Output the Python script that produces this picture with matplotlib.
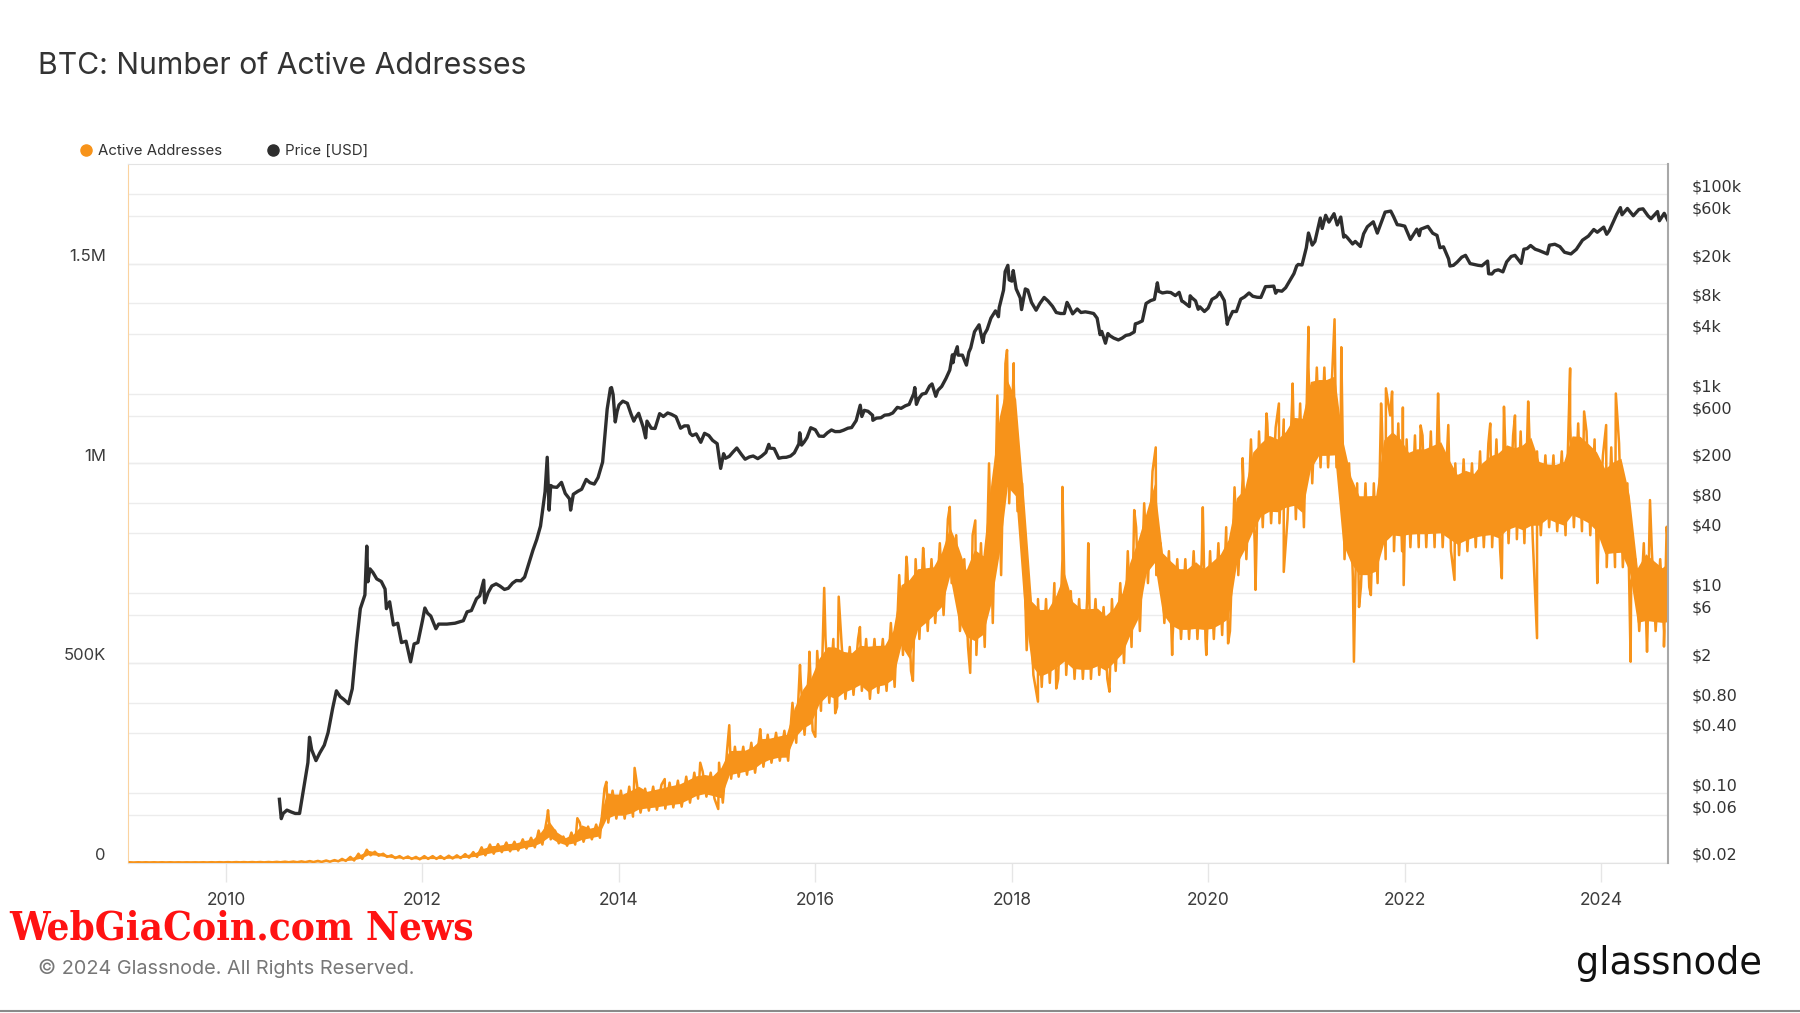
import matplotlib
matplotlib.use("Agg")
import matplotlib.pyplot as plt
import matplotlib.transforms as mtransforms
from matplotlib.lines import Line2D
from matplotlib.ticker import NullLocator
import numpy as np
import pandas as pd

plt.rcParams['font.family'] = ['Inter', 'DejaVu Sans']

# Data -----------------------------------------------------------------------
# active addresses: typical monthly band (thousands), Jan 2009 .. Sep 2024
aa_months = pd.date_range("2009-01-01", "2024-09-01", freq="MS")
aa_low_k = [
    0.1, 0.2, 0.2, 0.2, 0.2, 0.2, 0.2, 0.2, 0.2, 0.2, 0.3, 0.3,      # 2009
    0.3, 0.4, 0.4, 0.4, 0.4, 0.5, 0.6, 0.7, 0.8, 1.0, 1.2, 1.5,      # 2010
    2, 3, 4, 5, 9, 18, 17, 14, 11, 10, 9, 8,                         # 2011
    9, 9, 9, 10, 11, 12, 14, 18, 22, 26, 28, 30,                     # 2012
    35, 38, 45, 58, 48, 42, 45, 52, 58, 62, 100, 110,                # 2013
    110, 115, 125, 130, 132, 135, 138, 140, 150, 160, 165, 160,      # 2014
    150, 210, 215, 220, 225, 240, 250, 255, 255, 300, 320, 330,      # 2015
    380, 400, 390, 410, 420, 430, 410, 425, 430, 440, 520, 480,      # 2016
    560, 580, 600, 620, 700, 580, 540, 520, 540, 600, 720, 900,      # 2017
    880, 600, 470, 440, 450, 460, 470, 460, 460, 460, 470, 460,      # 2018
    480, 500, 540, 580, 700, 720, 600, 570, 560, 560, 560, 560,      # 2019
    560, 570, 580, 720, 760, 800, 840, 850, 850, 860, 860, 840,      # 2020
    950, 990, 990, 990, 760, 716, 690, 690, 700, 760, 780, 780,      # 2021
    790, 790, 790, 790, 790, 780, 770, 780, 790, 790, 790, 780,      # 2022
    800, 810, 800, 810, 820, 840, 830, 820, 840, 830, 820, 800,      # 2023
    740, 740, 740, 700, 580, 580, 580, 580, 580,                     # 2024
]
aa_high_k = [
    0.5, 0.6, 0.6, 0.6, 0.6, 0.6, 0.5, 0.5, 0.5, 0.6, 0.7, 0.8,
    0.9, 1.0, 1.0, 1.1, 1.2, 1.3, 1.6, 2.0, 2.3, 2.8, 3.5, 4.0,
    5, 6, 9, 14, 22, 32, 27, 22, 18, 16, 15, 14,
    16, 16, 16, 17, 18, 21, 26, 38, 45, 46, 50, 52,
    58, 62, 80, 110, 80, 65, 75, 100, 90, 95, 185, 180,
    180, 190, 200, 185, 190, 195, 200, 205, 215, 225, 228, 225,
    250, 290, 290, 290, 300, 320, 320, 325, 330, 400, 450, 480,
    530, 560, 560, 545, 540, 560, 560, 560, 560, 600, 720, 740,
    760, 760, 760, 800, 860, 820, 760, 820, 800, 1000, 1170, 1250,
    1200, 950, 680, 660, 660, 700, 760, 680, 660, 660, 660, 640,
    660, 700, 780, 840, 900, 980, 800, 780, 760, 760, 780, 760,
    780, 800, 840, 940, 960, 1060, 1080, 1100, 1090, 1110, 1150, 1150,
    1240, 1240, 1240, 1250, 1100, 1000, 950, 950, 950, 1100, 1120, 1100,
    1060, 1070, 1070, 1080, 1090, 1040, 1000, 1010, 1000, 1030, 1050, 1060,
    1080, 1070, 1080, 1100, 1030, 1020, 1020, 1030, 1100, 1100, 1080, 1060,
    1020, 1040, 1050, 950, 760, 800, 780, 760, 780,
]
# isolated daily spikes (thousands)
aa_spike_dates = [
    "2013-04-12", "2013-07-30", "2013-11-15", "2014-02-28", "2014-06-20",
    "2014-10-30", "2015-01-05", "2015-02-15", "2015-06-10", "2015-11-05",
    "2015-12-10", "2016-01-01", "2016-02-03", "2016-03-15", "2016-03-28",
    "2016-06-15", "2016-12-05", "2016-12-29", "2017-02-05", "2017-05-15",
    "2017-07-30", "2017-08-18", "2017-12-14", "2018-01-08", "2018-02-25",
    "2018-04-08", "2018-06-15", "2018-07-08", "2018-10-12", "2018-12-30",
    "2019-04-01", "2019-06-20", "2019-08-20", "2019-12-12", "2019-12-25",
    "2020-03-15", "2020-05-08", "2020-06-25", "2020-08-05", "2020-09-20",
    "2020-10-08", "2020-11-10", "2021-01-08", "2021-04-15", "2021-05-10",
    "2021-06-26", "2021-07-15", "2021-08-28", "2021-10-05", "2021-10-23",
    "2021-11-15", "2021-12-25", "2021-12-28", "2022-03-01", "2022-05-05",
    "2022-06-12", "2022-07-05", "2022-11-15", "2022-12-28", "2023-01-05",
    "2023-02-15", "2023-04-05", "2023-05-08", "2023-09-08", "2023-10-30",
    "2023-12-18", "2024-01-20", "2024-02-25", "2024-04-20", "2024-06-20",
    "2024-07-01", "2024-08-22", "2024-09-01",
]
aa_spike_k = [
    131, 111, 202, 237, 209,
    250, 134, 344, 334, 495,
    528, 315, 688, 374, 666,
    590, 766, 455, 788, 891,
    475, 857, 1284, 1251, 532,
    403, 436, 941, 800, 428,
    883, 1040, 520, 890, 520,
    549, 1013, 683, 1125, 1150,
    728, 1200, 1342, 1361, 1291,
    503, 640, 670, 1150, 1188,
    1180, 1140, 695, 1095, 1175,
    1096, 708, 1100, 712, 1142,
    1120, 1155, 562, 1238, 1130,
    700, 1096, 1175, 503, 528,
    908, 541, 841,
]

# BTC price (USD)
price_dates = [
    "2010-07-18", "2010-07-25", "2010-08-01", "2010-08-15", "2010-09-01", "2010-09-15",
    "2010-10-01", "2010-10-15", "2010-11-01", "2010-11-07", "2010-11-15", "2010-12-01",
    "2010-12-15", "2011-01-01", "2011-01-15", "2011-02-01", "2011-02-15", "2011-03-01",
    "2011-03-15", "2011-04-01", "2011-04-15", "2011-05-01", "2011-05-15", "2011-06-01",
    "2011-06-08", "2011-06-12", "2011-06-20", "2011-07-01", "2011-07-15", "2011-08-01",
    "2011-08-15", "2011-08-20", "2011-09-01", "2011-09-15", "2011-10-01", "2011-10-15",
    "2011-11-01", "2011-11-18", "2011-12-01", "2011-12-15", "2012-01-01", "2012-01-10",
    "2012-01-20", "2012-02-01", "2012-02-20", "2012-03-01", "2012-04-01", "2012-05-01",
    "2012-06-01", "2012-06-15", "2012-07-01", "2012-07-20", "2012-08-01", "2012-08-16",
    "2012-08-19", "2012-09-01", "2012-09-15", "2012-10-01", "2012-10-15", "2012-11-01",
    "2012-11-15", "2012-12-01", "2012-12-15", "2013-01-01", "2013-01-15", "2013-02-01",
    "2013-02-15", "2013-03-01", "2013-03-15", "2013-04-01", "2013-04-09", "2013-04-16",
    "2013-04-22", "2013-05-01", "2013-05-15", "2013-06-01", "2013-06-15", "2013-07-01",
    "2013-07-05", "2013-07-15", "2013-08-01", "2013-08-15", "2013-09-01", "2013-09-15",
    "2013-10-01", "2013-10-15", "2013-11-01", "2013-11-18", "2013-11-30", "2013-12-04",
    "2013-12-10", "2013-12-18", "2013-12-25", "2014-01-01", "2014-01-15", "2014-02-01",
    "2014-02-15", "2014-02-25", "2014-03-01", "2014-03-15", "2014-04-01", "2014-04-10",
    "2014-04-15", "2014-05-01", "2014-05-15", "2014-06-01", "2014-06-15", "2014-07-01",
    "2014-07-15", "2014-08-01", "2014-08-18", "2014-09-01", "2014-09-15", "2014-09-22",
    "2014-10-01", "2014-10-15", "2014-11-01", "2014-11-15", "2014-12-01", "2014-12-15",
    "2015-01-01", "2015-01-14", "2015-01-25", "2015-02-01", "2015-02-15", "2015-03-01",
    "2015-03-15", "2015-04-01", "2015-04-15", "2015-05-01", "2015-05-15", "2015-06-01",
    "2015-06-15", "2015-07-01", "2015-07-12", "2015-07-15", "2015-08-01", "2015-08-18",
    "2015-09-01", "2015-09-15", "2015-10-01", "2015-10-15", "2015-11-01", "2015-11-04",
    "2015-11-11", "2015-11-20", "2015-12-01", "2015-12-15", "2016-01-01", "2016-01-15",
    "2016-02-01", "2016-02-15", "2016-03-01", "2016-03-15", "2016-04-01", "2016-04-15",
    "2016-05-01", "2016-05-15", "2016-06-01", "2016-06-16", "2016-06-22", "2016-07-01",
    "2016-07-15", "2016-08-01", "2016-08-02", "2016-08-15", "2016-09-01", "2016-09-15",
    "2016-10-01", "2016-10-15", "2016-11-01", "2016-11-15", "2016-12-01", "2016-12-15",
    "2017-01-01", "2017-01-05", "2017-01-11", "2017-01-20", "2017-02-01", "2017-02-15",
    "2017-03-01", "2017-03-10", "2017-03-24", "2017-04-01", "2017-04-15", "2017-05-01",
    "2017-05-15", "2017-05-25", "2017-05-27", "2017-06-01", "2017-06-12", "2017-06-15",
    "2017-07-01", "2017-07-16", "2017-07-25", "2017-08-01", "2017-08-15", "2017-09-01",
    "2017-09-15", "2017-09-20", "2017-10-01", "2017-10-15", "2017-11-01", "2017-11-12",
    "2017-11-15", "2017-12-01", "2017-12-07", "2017-12-17", "2017-12-22", "2018-01-01",
    "2018-01-06", "2018-01-17", "2018-02-01", "2018-02-06", "2018-02-20", "2018-03-01",
    "2018-03-15", "2018-04-01", "2018-04-15", "2018-05-01", "2018-05-15", "2018-06-01",
    "2018-06-15", "2018-07-01", "2018-07-15", "2018-07-25", "2018-08-01", "2018-08-15",
    "2018-09-01", "2018-09-15", "2018-10-01", "2018-10-15", "2018-11-01", "2018-11-14",
    "2018-11-25", "2018-12-01", "2018-12-15", "2018-12-24", "2019-01-01", "2019-01-15",
    "2019-02-01", "2019-02-15", "2019-03-01", "2019-03-15", "2019-04-01", "2019-04-05",
    "2019-04-15", "2019-05-01", "2019-05-15", "2019-06-01", "2019-06-15", "2019-06-26",
    "2019-07-01", "2019-07-15", "2019-08-01", "2019-08-15", "2019-09-01", "2019-09-15",
    "2019-09-25", "2019-10-01", "2019-10-23", "2019-10-26", "2019-11-01", "2019-11-15",
    "2019-11-25", "2019-12-01", "2019-12-18", "2020-01-01", "2020-01-15", "2020-02-01",
    "2020-02-13", "2020-03-01", "2020-03-12", "2020-03-15", "2020-04-01", "2020-04-15",
    "2020-05-01", "2020-05-15", "2020-06-01", "2020-06-15", "2020-07-01", "2020-07-15",
    "2020-08-01", "2020-08-15", "2020-09-01", "2020-09-08", "2020-09-15", "2020-10-01",
    "2020-10-15", "2020-11-01", "2020-11-15", "2020-11-25", "2020-12-01", "2020-12-15",
    "2020-12-31", "2021-01-08", "2021-01-22", "2021-02-01", "2021-02-21", "2021-02-28",
    "2021-03-13", "2021-03-25", "2021-04-13", "2021-04-25", "2021-05-08", "2021-05-19",
    "2021-05-24", "2021-06-01", "2021-06-21", "2021-07-01", "2021-07-20", "2021-08-01",
    "2021-08-15", "2021-09-06", "2021-09-21", "2021-10-01", "2021-10-20", "2021-11-10",
    "2021-11-20", "2021-12-04", "2021-12-15", "2022-01-01", "2022-01-22", "2022-02-01",
    "2022-02-15", "2022-02-24", "2022-03-01", "2022-03-28", "2022-04-15", "2022-05-01",
    "2022-05-12", "2022-05-25", "2022-06-13", "2022-06-18", "2022-07-01", "2022-07-15",
    "2022-08-01", "2022-08-15", "2022-09-01", "2022-09-15", "2022-10-01", "2022-10-15",
    "2022-11-05", "2022-11-09", "2022-11-21", "2022-12-01", "2022-12-15", "2023-01-01",
    "2023-01-15", "2023-02-01", "2023-02-15", "2023-03-10", "2023-03-20", "2023-04-01",
    "2023-04-14", "2023-05-01", "2023-05-15", "2023-06-15", "2023-06-23", "2023-07-13",
    "2023-08-01", "2023-08-18", "2023-09-11", "2023-10-01", "2023-10-24", "2023-11-15",
    "2023-12-05", "2023-12-18", "2024-01-11", "2024-01-22", "2024-02-01", "2024-02-28",
    "2024-03-13", "2024-03-19", "2024-04-08", "2024-04-30", "2024-05-21", "2024-06-05",
    "2024-06-24", "2024-07-05", "2024-07-29", "2024-08-05", "2024-08-23", "2024-09-06",
]
price_usd = [
    0.086, 0.055, 0.062, 0.067, 0.064, 0.062,
    0.062, 0.105, 0.20, 0.36, 0.27, 0.21,
    0.25, 0.30, 0.40, 0.70, 1.05, 0.92,
    0.86, 0.78, 1.10, 3.2, 7.0, 9.6,
    29.6, 13.0, 17.5, 16.1, 13.9, 13.1,
    11.0, 7.0, 8.2, 4.8, 5.0, 3.2,
    3.3, 2.05, 3.1, 3.2, 5.3, 7.1,
    6.3, 5.9, 4.4, 4.9, 4.9, 5.0,
    5.3, 6.5, 6.7, 8.8, 9.4, 13.5,
    8.0, 10.1, 11.8, 12.4, 11.8, 10.9,
    11.2, 12.6, 13.4, 13.3, 14.5, 20.4,
    27, 34.5, 47, 104, 230, 68,
    120, 116, 115, 129, 100, 88,
    68, 98, 105, 110, 138, 128,
    124, 144, 206, 700, 1130, 1150,
    980, 520, 665, 770, 840, 800,
    620, 530, 560, 635, 460, 360,
    530, 450, 447, 630, 590, 640,
    620, 586, 450, 475, 475, 400,
    380, 395, 325, 400, 380, 340,
    315, 178, 250, 225, 235, 260,
    285, 246, 220, 232, 237, 223,
    236, 257, 310, 285, 281, 225,
    229, 230, 237, 255, 314, 405,
    305, 326, 362, 455, 434, 375,
    373, 405, 432, 416, 417, 430,
    450, 457, 537, 765, 590, 680,
    665, 606, 540, 568, 573, 608,
    615, 640, 728, 712, 755, 780,
    998, 1150, 780, 895, 988, 1010,
    1190, 1250, 940, 1080, 1180, 1420,
    1720, 2450, 2040, 2410, 2950, 2430,
    2430, 1930, 2600, 2870, 4170, 4890,
    3250, 3900, 4400, 5700, 6750, 5900,
    7300, 10900, 16700, 19300, 13800, 13400,
    17100, 11200, 9100, 6950, 11200, 10900,
    8200, 6850, 8000, 9200, 8500, 7500,
    6500, 6350, 6350, 8200, 7600, 6300,
    7050, 6500, 6600, 6500, 6350, 5700,
    3900, 4200, 3200, 4000, 3800, 3600,
    3450, 3600, 3830, 3900, 4150, 5000,
    5100, 5350, 8000, 8550, 8800, 12900,
    10600, 10200, 10400, 10300, 9600, 10350,
    8450, 8300, 7450, 9550, 9150, 8500,
    7000, 7400, 6650, 7200, 8800, 9350,
    10350, 8550, 4950, 5350, 6650, 6650,
    8850, 9300, 10200, 9450, 9240, 9200,
    11800, 11850, 11950, 10150, 10800, 10620,
    11500, 13750, 15950, 19000, 19700, 19450,
    29000, 40700, 30800, 33500, 57500, 45200,
    61200, 52300, 63500, 49000, 58800, 37000,
    38500, 36700, 31600, 33500, 29800, 39900,
    47000, 52700, 40600, 48100, 65900, 67500,
    59700, 49300, 48900, 47700, 35100, 38700,
    44500, 38300, 44400, 47400, 40500, 38500,
    29000, 29600, 22400, 19000, 19300, 20800,
    23300, 24300, 20100, 19700, 19300, 19100,
    21300, 15900, 15800, 17000, 17400, 16600,
    20900, 23700, 24300, 20200, 28000, 28400,
    30500, 28000, 27200, 25100, 30700, 31400,
    29700, 26100, 25100, 27900, 34500, 37900,
    44100, 41400, 46600, 39500, 43100, 62400,
    73100, 62000, 71700, 60600, 70100, 71100,
    60300, 56700, 66800, 54000, 64100, 54000,
]

left_ticks = [0, 500_000, 1_000_000, 1_500_000]
left_labels = ["0", "500K", "1M", "1.5M"]
right_ticks = [0.02, 0.06, 0.1, 0.4, 0.8, 2, 6, 10, 40, 80, 200, 600,
               1000, 4000, 8000, 20000, 60000, 100000]
right_labels = ["$0.02", "$0.06", "$0.10", "$0.40", "$0.80", "$2", "$6", "$10",
                "$40", "$80", "$200", "$600", "$1k", "$4k", "$8k", "$20k",
                "$60k", "$100k"]
year_ticks = list(range(2010, 2025, 2))

ORANGE = "#f7931a"
DARK = "#2e2e2e"

# Build series ---------------------------------------------------------------
low = np.array(aa_low_k) * 1000
high = np.array(aa_high_k) * 1000
band_x, band_y = [], []
for m, lo, hi in zip(aa_months, low, high):
    band_x += [m + pd.Timedelta(days=7), m + pd.Timedelta(days=21)]
    band_y += [hi, lo]
aa = pd.Series(band_y + [v * 1000 for v in aa_spike_k],
               index=band_x + list(pd.to_datetime(aa_spike_dates))).sort_index()
price = pd.Series(price_usd, index=pd.to_datetime(price_dates))
mid_month = aa_months + pd.Timedelta(days=14)

# Plot -----------------------------------------------------------------------
fig = plt.figure(figsize=(18, 10.13), dpi=100)
ax = fig.add_axes([128 / 1800, 1 - 862.5 / 1013, 1540 / 1800, 698.5 / 1013])
ax2 = ax.twinx()

# dense core of the daily series + its noisy edges
core = 0.12 * (high - low)
ax.fill_between(mid_month, low + core, high - core, color=ORANGE, lw=0, zorder=2)
ax.plot(aa.index, aa.values, color=ORANGE, lw=1.8, solid_joinstyle="round", zorder=3)
ax2.plot(price.index, price.values, color=DARK, lw=2.4, solid_joinstyle="round")

ax.set_xlim(pd.Timestamp("2009-01-01"), pd.Timestamp("2024-09-06"))
ax.set_ylim(0, 1.75e6)
ax2.set_yscale("log")
ax2.set_ylim(0.02, 2e5)

ax.set_xticks([pd.Timestamp(f"{y}-01-01") for y in year_ticks])
ax.set_xticklabels([str(y) for y in year_ticks])
ax.set_yticks(left_ticks)
ax.set_yticklabels(left_labels)
ax2.set_yticks(right_ticks)
ax2.set_yticklabels(right_labels)
ax2.yaxis.set_minor_locator(NullLocator())

ax.tick_params(axis="x", length=14, width=1, color="#e6e6e6", pad=7,
               labelsize=12.5, labelcolor="#3c3c3c")
ax.tick_params(axis="y", length=0, pad=16, labelsize=12, labelcolor="#3c3c3c")
ax2.tick_params(axis="y", which="both", length=0, pad=17, labelsize=11.5,
                labelcolor="#333333", labelfontfamily="DejaVu Sans")

# faint grid lines, kept under both series
ax.grid(axis="y", color="#ececec", lw=1)
ax.set_axisbelow(True)
right_trans = mtransforms.blended_transform_factory(ax.transAxes, ax2.transData)
for v in right_ticks:
    ax.add_line(Line2D([0, 1], [v, v], transform=right_trans, color="#ececec", lw=1, zorder=0.5))

# labels sit a bit above their tick value
offset = mtransforms.ScaledTranslation(0, 8.5 / 100, fig.dpi_scale_trans)
for lab in ax.get_yticklabels() + ax2.get_yticklabels():
    lab.set_transform(lab.get_transform() + offset)

for s in ["top", "bottom"]:
    ax.spines[s].set_color("#e3e3e3")
ax.spines["left"].set_color("#fbd3a0")
ax.spines["right"].set_visible(False)
for s in ["top", "bottom", "left"]:
    ax2.spines[s].set_visible(False)
ax2.spines["right"].set_color("#a8a8a8")
ax2.spines["right"].set_linewidth(1.5)

# Legend ---------------------------------------------------------------------
handles = [
    Line2D([], [], ls="none", marker="o", ms=8, mfc=ORANGE, mec=ORANGE, label="Active Addresses"),
    Line2D([], [], ls="none", marker="o", ms=8, mfc=DARK, mec=DARK, label="Price [USD]"),
]
leg = fig.legend(handles=handles, loc="center left", bbox_to_anchor=(78.7 / 1800, 1 - 151 / 1013),
                 ncol=2, frameon=False, fontsize=10.8, handletextpad=0.3, handlelength=1.0,
                 columnspacing=2.9, borderpad=0, borderaxespad=0)
for t in leg.get_texts():
    t.set_color("#333333")

# Texts ----------------------------------------------------------------------
fig.text(38 / 1800, 1 - 66 / 1013, "BTC: Number of Active Addresses",
         fontsize=21.7, color="#333333", va="center")
fig.text(9 / 1800, 1 - 928 / 1013, "WebGiaCoin.com News", color="#ff1212",
         fontsize=29, fontweight="bold", family="DejaVu Serif", fontstretch="condensed",
         va="center")
fig.text(38 / 1800, 1 - 968 / 1013, "\u00a9 2024 Glassnode. All Rights Reserved.",
         fontsize=14.3, color="#777777", va="center")
fig.text(1762 / 1800, 1 - 963 / 1013, "glassnode", fontsize=26.5, color="#111111",
         ha="right", va="center", family="DejaVu Sans")
fig.add_artist(Line2D([0, 1], [1 - 1010.5 / 1013] * 2, transform=fig.transFigure,
                      color="#8a8a8a", lw=1.5))

fig.savefig("out.png", dpi=100)
